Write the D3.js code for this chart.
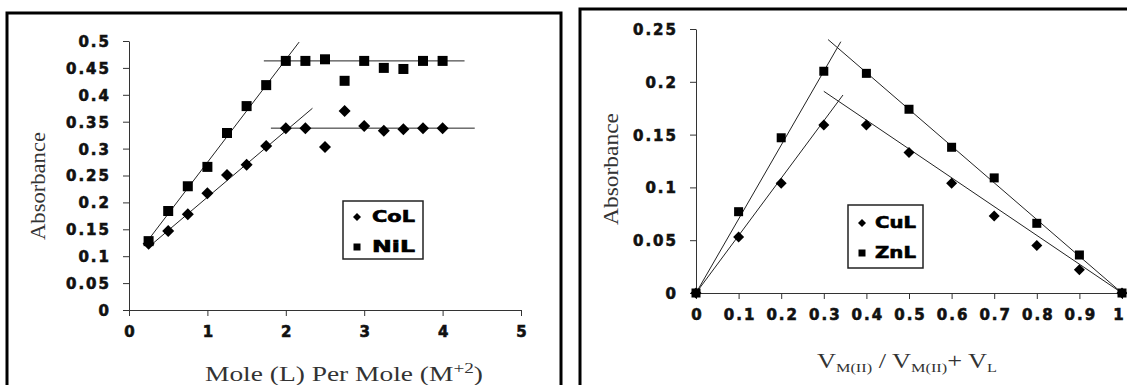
<!DOCTYPE html>
<html>
<head>
<meta charset="utf-8">
<script src="https://cdn.jsdelivr.net/npm/d3@7"></script>
<style>
  html, body { margin: 0; padding: 0; background: #fff; }
  svg { display: block; }
  .tick text { font-family: "DejaVu Sans", sans-serif; font-weight: bold; font-size: 15px; fill: #111; stroke: #111; stroke-width: 0.6px; letter-spacing: 2px; }
  .domain, .tick line { stroke: #333; }
</style>
</head>
<body>
<script>
// left panel data: mole ratio
const moleRatio = [0.25, 0.5, 0.75, 1, 1.25, 1.5, 1.75, 2, 2.25, 2.5, 2.75, 3, 3.25, 3.5, 3.75, 4];
const colAbs = [0.123, 0.147, 0.178, 0.217, 0.251, 0.27, 0.305, 0.338, 0.338, 0.303, 0.37, 0.342, 0.333, 0.336, 0.338, 0.338];
const nilAbs = [0.128, 0.184, 0.23, 0.266, 0.329, 0.379, 0.418, 0.463, 0.463, 0.466, 0.426, 0.463, 0.45, 0.448, 0.463, 0.463];
const leftYTicks = [0, 0.05, 0.1, 0.15, 0.2, 0.25, 0.3, 0.35, 0.4, 0.45, 0.5];
const leftXTicks = [0, 1, 2, 3, 4, 5];
// trend lines [x1, y1, x2, y2]
const leftLines = [
  [0.25, 0.131, 2.17, 0.498],
  [1.72, 0.463, 4.28, 0.463],
  [0.25, 0.117, 2.34, 0.375],
  [1.81, 0.338, 4.41, 0.338]
];

// right panel data: continuous variation
const volFrac = [0, 0.1, 0.2, 0.3, 0.4, 0.5, 0.6, 0.7, 0.8, 0.9, 1];
const culAbs = [0, 0.053, 0.104, 0.159, 0.159, 0.133, 0.104, 0.073, 0.045, 0.022, 0];
const znlAbs = [0, 0.077, 0.147, 0.21, 0.208, 0.174, 0.138, 0.109, 0.066, 0.036, 0];
const rightYTicks = [0, 0.05, 0.1, 0.15, 0.2, 0.25];
const rightXTicks = [0, 0.1, 0.2, 0.3, 0.4, 0.5, 0.6, 0.7, 0.8, 0.9, 1];
const rightLines = [
  [0, 0, 0.34, 0.238],
  [0.31, 0.24, 1, 0],
  [0, 0, 0.345, 0.1875],
  [0.30, 0.191, 1, 0]
];

const width = 1127, height = 385;
const svg = d3.select("body").append("svg").attr("width", width).attr("height", height);

// panel frames
svg.append("rect").attr("x", 7).attr("y", 13).attr("width", 554).attr("height", 400)
  .attr("fill", "none").attr("stroke", "#000").attr("stroke-width", 3);
svg.append("rect").attr("x", 580).attr("y", 9).attr("width", 600).attr("height", 400)
  .attr("fill", "none").attr("stroke", "#000").attr("stroke-width", 3);

function diamond(g, x, y, r) {
  g.append("path").attr("d", `M${x},${y - r}L${x + r},${y}L${x},${y + r}L${x - r},${y}Z`).attr("fill", "#000");
}
function square(g, x, y, s) {
  g.append("rect").attr("x", x - s / 2).attr("y", y - s / 2).attr("width", s).attr("height", s).attr("fill", "#000");
}

function panel(opt) {
  const g = svg.append("g");
  const x = d3.scaleLinear().domain(opt.xDomain).range(opt.xRange);
  const y = d3.scaleLinear().domain(opt.yDomain).range(opt.yRange);

  g.append("g").attr("transform", `translate(0,${opt.yRange[0]})`)
    .call(d3.axisBottom(x).tickValues(opt.xTicks).tickSize(6).tickPadding(10).tickSizeOuter(0).tickFormat(d => d3.format("")(d)))
    .call(a => a.selectAll(".tick text").attr("dx", "1px"));
  g.append("g").attr("transform", `translate(${opt.xRange[0]},0)`)
    .call(d3.axisLeft(y).tickValues(opt.yTicks).tickSize(6).tickPadding(12).tickSizeOuter(0).tickFormat(d => d3.format("")(d)))
    .call(a => a.selectAll(".tick text").attr("dy", "0.36em"));

  // trend lines
  g.selectAll(".trend").data(opt.lines).join("line")
    .attr("x1", d => x(d[0])).attr("y1", d => y(d[1]))
    .attr("x2", d => x(d[2])).attr("y2", d => y(d[3]))
    .attr("stroke", "#222").attr("stroke-width", 1);

  // markers
  opt.xs.forEach((v, i) => diamond(g, x(v), y(opt.dia[i]), opt.dr));
  opt.xs.forEach((v, i) => square(g, x(v), y(opt.sq[i]), opt.ss));

  // legend
  const L = opt.legend;
  g.append("rect").attr("x", L.x).attr("y", L.y).attr("width", L.w).attr("height", L.h)
    .attr("fill", "#fff").attr("stroke", "#222").attr("stroke-width", 1.5);
  diamond(g, L.x + L.mx, L.y + L.y1, 4);
  square(g, L.x + L.mx, L.y + L.y2, 7);
  [[opt.names[0], L.y1], [opt.names[1], L.y2]].forEach(([t, yy]) => {
    g.append("text").attr("x", L.x + L.tx).attr("y", L.y + yy).attr("dy", "0.36em")
      .attr("font-family", "DejaVu Sans").attr("font-weight", "bold").attr("font-size", 15)
      .attr("stroke", "#000").attr("stroke-width", 0.6)
      .attr("textLength", L.tw).attr("lengthAdjust", "spacingAndGlyphs").text(t);
  });
  return g;
}

panel({
  xDomain: [0, 5], xRange: [129, 521], yDomain: [0, 0.5], yRange: [310, 41],
  xTicks: leftXTicks, yTicks: leftYTicks, lines: leftLines,
  xs: moleRatio, dia: colAbs, sq: nilAbs, dr: 6, ss: 10,
  names: ["CoL", "NiL"],
  legend: { x: 343, y: 201, w: 80, h: 58, mx: 14, tx: 29, y1: 16, y2: 46, tw: 43 }
});

panel({
  xDomain: [0, 1], xRange: [696, 1122], yDomain: [0, 0.25], yRange: [293, 29],
  xTicks: rightXTicks, yTicks: rightYTicks, lines: rightLines,
  xs: volFrac, dia: culAbs, sq: znlAbs, dr: 5.5, ss: 9,
  names: ["CuL", "ZnL"],
  legend: { x: 848, y: 205, w: 75, h: 63, mx: 14, tx: 27, y1: 18, y2: 48, tw: 41 }
});

// keep the last x label of the right panel inside the window
svg.selectAll(".tick text").filter(function () { return this.textContent === "1" && +this.parentNode.getAttribute("transform").match(/translate\(([\d.]+)/)[1] > 1100; })
  .attr("dx", "-3px");

// axis titles
const serif = "'Liberation Serif', 'DejaVu Serif', serif";
svg.append("text").attr("transform", "translate(45,186) rotate(-90)").attr("text-anchor", "middle")
  .attr("font-family", serif).attr("font-size", 20).attr("fill", "#333")
  .attr("textLength", 108).attr("lengthAdjust", "spacingAndGlyphs").text("Absorbance");
svg.append("text").attr("transform", "translate(618,169) rotate(-90)").attr("text-anchor", "middle")
  .attr("font-family", serif).attr("font-size", 20).attr("fill", "#333")
  .attr("textLength", 112).attr("lengthAdjust", "spacingAndGlyphs").text("Absorbance");

const t1 = svg.append("text").attr("x", 205).attr("y", 381)
  .attr("font-family", serif).attr("font-size", 20).attr("fill", "#333")
  .attr("textLength", 278).attr("lengthAdjust", "spacingAndGlyphs");
t1.append("tspan").text("Mole (L) Per Mole (M");
t1.append("tspan").attr("font-size", 14).attr("dy", -8).text("+2");
t1.append("tspan").attr("dy", 8).text(")");

const t2 = svg.append("text").attr("x", 817).attr("y", 368)
  .attr("font-family", serif).attr("font-size", 21).attr("fill", "#333")
  .attr("textLength", 180).attr("lengthAdjust", "spacingAndGlyphs");
t2.append("tspan").text("V");
t2.append("tspan").attr("font-size", 13).attr("dy", 4).text("M(II)");
t2.append("tspan").attr("dy", -4).text(" / V");
t2.append("tspan").attr("font-size", 13).attr("dy", 4).text("M(II)");
t2.append("tspan").attr("dy", -4).text("+ V");
t2.append("tspan").attr("font-size", 13).attr("dy", 4).text("L");
</script>
</body>
</html>
